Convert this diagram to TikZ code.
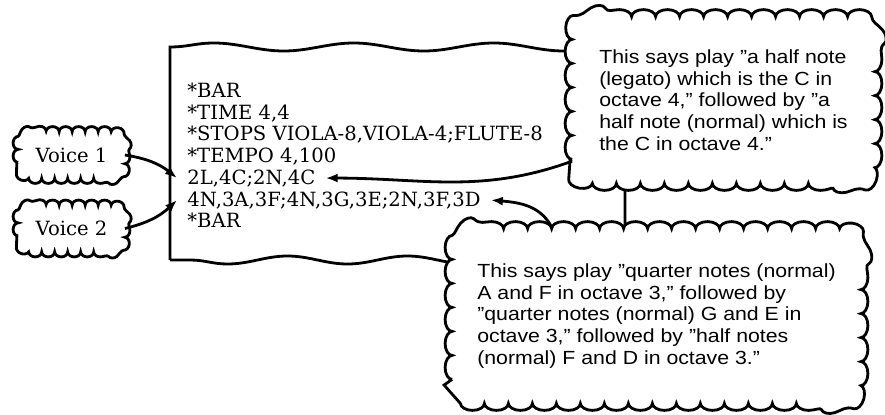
\documentclass[tikz,border=0pt]{standalone}
\usepackage{fontspec}
\usetikzlibrary{arrows.meta,decorations.pathmorphing,backgrounds}
\newfontfamily\codefont{DejaVu Serif}
\newfontfamily\notefont[Ligatures=TeX,FakeStretch=1.12]{Liberation Sans}

\tikzset{
    sheet/.style={draw,line width=1.4pt},
    puff/.style={draw,fill=white,line width=1.4pt,decoration={bumps,segment length=24pt,amplitude=3.5pt}},
    smallpuff/.style={puff,decoration={bumps,segment length=13pt,amplitude=2.5pt}}
}

\begin{document}
\begin{tikzpicture}[x=0.5pt,y=0.5pt]
    \useasboundingbox (0,0) rectangle (885,414);

    \begin{scope}[every node/.style={anchor=base west,inner xsep=5pt,inner ysep=0pt,
            font=\codefont\fontsize{9.8}{11}\selectfont}]
        \node (bar) at (177,317) {*BAR};
        \node (time) at (177,295) {*TIME 4,4};
        \node (stops) at (177,274) {*STOPS VIOLA-8,VIOLA-4;FLUTE-8};
        \node (tempo) at (177,252) {*TEMPO 4,100};
        \node (halfs) at (177,230) {2L,4C;2N,4C};
        \node (quarters) at (177,208) {4N,3A,3F;4N,3G,3E;2N,3F,3D};
        \node (endbar) at (177,187) {*BAR};
    \end{scope}

    \begin{scope}[every node/.style={align=left,inner sep=0pt,
            font=\notefont\fontsize{9.5}{10.85}\selectfont}]
        \node[minimum width=151pt,minimum height=83pt] (legato) at (723.5,314)
            {This says play ''a half note\\(legato) which is the C in\\octave 4,'' followed by ''a\\half note (normal) which is\\the C in octave 4.''};
        \node[minimum width=204pt,minimum height=87pt] (quarter) at (656.5,98)
            {This says play ''quarter notes (normal)\\A and F in octave 3,'' followed by\\''quarter notes (normal) G and E in\\octave 3,'' followed by ''half notes\\(normal) F and D in octave 3.''};
    \end{scope}

    \begin{scope}[every node/.style={inner sep=0pt,minimum width=53pt,minimum height=23pt,
            font=\codefont\fontsize{9.8}{11}\selectfont}]
        \node (voice1) at (71.5,259) {Voice 1};
        \node (voice2) at (71.5,185.5) {Voice 2};
    \end{scope}

    % sheet and clouds behind the texts
    \begin{scope}[on background layer]
        \path[sheet] (170,154) -- (170,367)
            decorate[decoration={snake,segment length=70pt,amplitude=2pt}]{-- (625,367)}
            -- (625,154)
            decorate[decoration={snake,segment length=60pt,amplitude=2pt}]{-- (170,154)};
        \path[puff] decorate {[rounded corners=12pt] (legato.south west) rectangle (legato.north east)};
        \path[puff] decorate {[rounded corners=12pt] (quarter.south west) rectangle (quarter.north east)};
        \path[smallpuff] decorate {[rounded corners=8pt] (voice1.south west) rectangle (voice1.north east)};
        \path[smallpuff] decorate {[rounded corners=8pt] (voice2.south west) rectangle (voice2.north east)};
    \end{scope}

    \begin{scope}[every edge/.style={draw,line width=1.4pt,-{Latex[length=6pt,width=4.5pt]}}]
        \path (voice1.east) edge [bend left=15] (halfs.west);
        \path (voice2.east) edge [bend right=15] (quarters.west);
        \path (legato.202) edge [out=200,in=0] (halfs.east);
        \path (quarter.140) edge [out=115,in=-5] (quarters.east);
    \end{scope}
\end{tikzpicture}
\end{document}
